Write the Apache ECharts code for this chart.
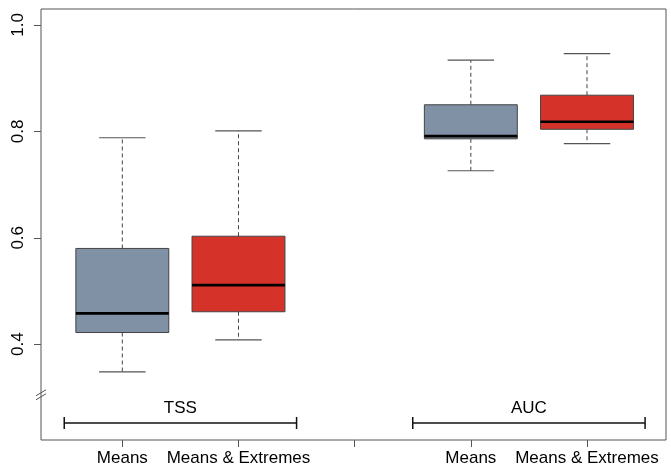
<!DOCTYPE html>
<html>
	<head>
		<meta charset="UTF-8">
		<title></title>
		<script src="https://cdn.jsdelivr.net/npm/echarts@6/dist/echarts.min.js"></script>
		<style>
			html, body { margin: 0; padding: 0; background: #fff; }
		</style>
	</head>
	<body>
		<div id="chart" style="width: 671px;height: 468px;"></div>
		<script type="text/javascript">
			// x positions 1,2 = TSS ; 4,5 = AUC ; 3 is the gap
			var positions = [1, 2, 4, 5];
			var boxLabels = ['Means', 'Means & Extremes', 'Means', 'Means & Extremes'];
			var groupNames = ['TSS', 'AUC'];
			var groupMembers = [[1, 2], [4, 5]];
			// [min, Q1, median, Q3, max]
			var tssMeans = [0.348, 0.422, 0.458, 0.580, 0.788];
			var tssExtremes = [0.408, 0.461, 0.511, 0.603, 0.801];
			var aucMeans = [0.726, 0.786, 0.791, 0.850, 0.934];
			var aucExtremes = [0.777, 0.804, 0.818, 0.868, 0.946];
			var yTicks = [0.4, 0.6, 0.8, 1.0];
			var colors = ['#8191a5', '#d5332a', '#8191a5', '#d5332a'];

			var stats = [tssMeans, tssExtremes, aucMeans, aucExtremes];
			var boxData = stats.map(function (s, i) {
				return { value: [positions[i]].concat(s), itemStyle: { color: colors[i] } };
			});
			var groupData = groupMembers.map(function (m) {
				return [m[0] - 0.5, m[m.length - 1] + 0.5];
			});

			var font = "'Liberation Sans', Arial, sans-serif";
			var myChart = echarts.init(document.getElementById('chart'));

			var option = {
				animation: false,
				grid: {
					left: 41, top: 9, right: 5, bottom: 28,
					show: true, borderColor: '#555', borderWidth: 1, backgroundColor: 'transparent'
				},
				xAxis: {
					type: 'value', min: 0.3, max: 5.68,
					splitLine: { show: false },
					axisLine: { show: false },
					axisTick: { show: true, length: 7, customValues: [1, 2, 3, 4, 5], lineStyle: { color: '#555' } },
					axisLabel: {
						customValues: positions, margin: 10,
						color: '#000', fontSize: 17, fontFamily: font,
						formatter: function (v) {
							var i = positions.indexOf(Math.round(v));
							return i >= 0 ? boxLabels[i] : '';
						}
					}
				},
				yAxis: {
					type: 'value', min: 0.22, max: 1.03,
					splitLine: { show: false },
					axisLine: { show: false },
					axisTick: { show: true, length: 7, customValues: yTicks, lineStyle: { color: '#555' } },
					axisLabel: {
						customValues: yTicks, rotate: 90, margin: 14,
						color: '#000', fontSize: 17, fontFamily: font,
						formatter: function (v) { return v.toFixed(1); }
					}
				},
				series: [
					{
						type: 'custom',
						data: boxData,
						encode: { x: 0, y: [1, 2, 3, 4, 5] },
						renderItem: function (params, api) {
							var x = api.value(0);
							var w = api.size([0.8, 0])[0];
							var cap = w / 2;
							var pMin = api.coord([x, api.value(1)]);
							var pQ1 = api.coord([x, api.value(2)]);
							var pMed = api.coord([x, api.value(3)]);
							var pQ3 = api.coord([x, api.value(4)]);
							var pMax = api.coord([x, api.value(5)]);
							var cx = pMed[0];
							var fill = api.visual('color');
							return {
								type: 'group',
								children: [
									{ type: 'line', shape: { x1: cx, y1: pQ3[1], x2: cx, y2: pMax[1] },
									  style: { stroke: '#444', lineWidth: 1, lineDash: [4, 3] } },
									{ type: 'line', shape: { x1: cx, y1: pQ1[1], x2: cx, y2: pMin[1] },
									  style: { stroke: '#444', lineWidth: 1, lineDash: [4, 3] } },
									{ type: 'line', shape: { x1: cx - cap / 2, y1: pMax[1], x2: cx + cap / 2, y2: pMax[1] },
									  style: { stroke: '#555', lineWidth: 1.2 } },
									{ type: 'line', shape: { x1: cx - cap / 2, y1: pMin[1], x2: cx + cap / 2, y2: pMin[1] },
									  style: { stroke: '#555', lineWidth: 1.2 } },
									{ type: 'rect', shape: { x: cx - w / 2, y: pQ3[1], width: w, height: pQ1[1] - pQ3[1] },
									  style: { fill: fill, stroke: '#444', lineWidth: 1 } },
									{ type: 'line', shape: { x1: cx - w / 2, y1: pMed[1], x2: cx + w / 2, y2: pMed[1] },
									  style: { stroke: '#000', lineWidth: 2.6 } }
								]
							};
						}
					},
					{
						type: 'custom',
						data: groupData,
						encode: { x: [0, 1] },
						renderItem: function (params, api) {
							var yBar = 0.252, yText = 0.279;
							var a = api.coord([api.value(0), yBar]);
							var b = api.coord([api.value(1), yBar]);
							var t = api.coord([(api.value(0) + api.value(1)) / 2, yText]);
							return {
								type: 'group',
								children: [
									{ type: 'line', shape: { x1: a[0], y1: a[1], x2: b[0], y2: b[1] }, style: { stroke: '#111', lineWidth: 1.5 } },
									{ type: 'line', shape: { x1: a[0], y1: a[1] - 6, x2: a[0], y2: a[1] + 6 }, style: { stroke: '#111', lineWidth: 1.5 } },
									{ type: 'line', shape: { x1: b[0], y1: b[1] - 6, x2: b[0], y2: b[1] + 6 }, style: { stroke: '#111', lineWidth: 1.5 } },
									{ type: 'text', x: t[0], y: t[1],
									  style: { text: groupNames[params.dataIndex], fill: '#000', fontSize: 17, fontFamily: font, align: 'center', verticalAlign: 'middle' } }
								]
							};
						}
					},
					{
						// axis break mark on the y axis
						type: 'custom',
						data: [[0.3, 0.305]],
						clip: false,
						renderItem: function (params, api) {
							var p = api.coord([api.value(0), api.value(1)]);
							return {
								type: 'group',
								children: [
									{ type: 'line', shape: { x1: p[0] - 5, y1: p[1] + 1, x2: p[0] + 5, y2: p[1] - 5 }, style: { stroke: '#555', lineWidth: 1 } },
									{ type: 'line', shape: { x1: p[0] - 5, y1: p[1] + 5, x2: p[0] + 5, y2: p[1] - 1 }, style: { stroke: '#555', lineWidth: 1 } }
								]
							};
						}
					}
				]
			};
			myChart.setOption(option);
		</script>
	</body>
</html>
